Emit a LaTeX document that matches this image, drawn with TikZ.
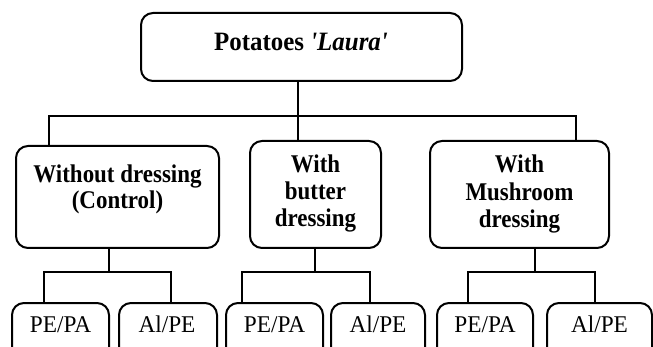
\documentclass[tikz,border=0pt]{standalone}
\usepackage{fontspec}
\setmainfont{Liberation Serif}[Ligatures=TeXOff]
\newfontfamily\boxfont{Liberation Serif}[Ligatures=TeXOff, FakeStretch=0.9]
\newfontfamily\topfont{Liberation Serif}[Ligatures=TeXOff, FakeStretch=0.94]
\newfontfamily\leaffont{Liberation Serif}[Ligatures=TeXOff, FakeStretch=0.97]
\begin{document}
\begin{tikzpicture}[x=1pt,y=-1pt,
  box/.style={draw, line width=2pt, rounded corners=12pt, inner sep=0pt},
  conn/.style={line width=2pt},
  btxt/.style={anchor=base, inner sep=0pt, font=\boxfont\fontsize{25.5}{29}\selectfont\bfseries},
  ltxt/.style={anchor=base, inner sep=0pt, font=\leaffont\fontsize{24}{28}\selectfont}]
\useasboundingbox (0,0) rectangle (653,347);
\clip (0,0) rectangle (653,347);
% boxes
\node[box, minimum width=321pt, minimum height=68pt] (top) at (301.5,47) {};
\node[box, minimum width=203pt, minimum height=102pt] (b1) at (117.5,197) {};
\node[box, minimum width=131pt, minimum height=107pt] (b2) at (315.5,194.5) {};
\node[box, minimum width=179pt, minimum height=107pt] (b3) at (519.5,194.5) {};
\node[box, minimum width=97pt, minimum height=60pt] (l1a) at (60.5,333) {};
\node[box, minimum width=98pt, minimum height=60pt] (l1b) at (168,333) {};
\node[box, minimum width=97pt, minimum height=60pt] (l2a) at (274.5,333) {};
\node[box, minimum width=94pt, minimum height=60pt] (l2b) at (378,333) {};
\node[box, minimum width=96pt, minimum height=60pt] (l3a) at (485,333) {};
\node[box, minimum width=105pt, minimum height=60pt] (l3b) at (599.5,333) {};
% texts
\node[anchor=base, inner sep=0pt, font=\topfont\fontsize{26.5}{30}\selectfont\bfseries] (ttop) at (301,51) {Potatoes \textit{'Laura'}};
\node[btxt] (t1a) at (117.5,183) {Without dressing};
\node[btxt] (t1b) at (117.5,209) {(Control)};
\node[btxt] (t2a) at (315.5,173) {With};
\node[btxt] (t2b) at (315.5,200) {butter};
\node[btxt] (t2c) at (315.5,227) {dressing};
\node[btxt] (t3a) at (519.5,173) {With};
\node[btxt] (t3b) at (519.5,201) {Mushroom};
\node[btxt] (t3c) at (519.5,228) {dressing};
\node[ltxt] (tl1a) at (60.5,332) {PE/PA};
\node[ltxt] (tl1b) at (167,332) {Al/PE};
\node[ltxt] (tl2a) at (274.5,332) {PE/PA};
\node[ltxt] (tl2b) at (378,332) {Al/PE};
\node[ltxt] (tl3a) at (485,332) {PE/PA};
\node[ltxt] (tl3b) at (599.5,332) {Al/PE};
% connectors
\coordinate (h0) at (298,116);
\coordinate (h1) at (109,272);
\coordinate (h2) at (315,272);
\coordinate (h3) at (535,272);
\draw[conn] (top.south -| h0) -- (h0);
\draw[conn] (b1.north -| 49,0) |- (h0) -| (b3.north -| 576,0);
\draw[conn] (h0) -- (b2.north -| h0);
\draw[conn] (b1.south -| h1) -- (h1);
\draw[conn] (l1a.north -| 44,0) |- (h1) -| (l1b.north -| 171,0);
\draw[conn] (b2.south -| h2) -- (h2);
\draw[conn] (l2a.north -| 242,0) |- (h2) -| (l2b.north -| 370,0);
\draw[conn] (b3.south -| h3) -- (h3);
\draw[conn] (l3a.north -| 468,0) |- (h3) -| (l3b.north -| 595,0);
\end{tikzpicture}
\end{document}
